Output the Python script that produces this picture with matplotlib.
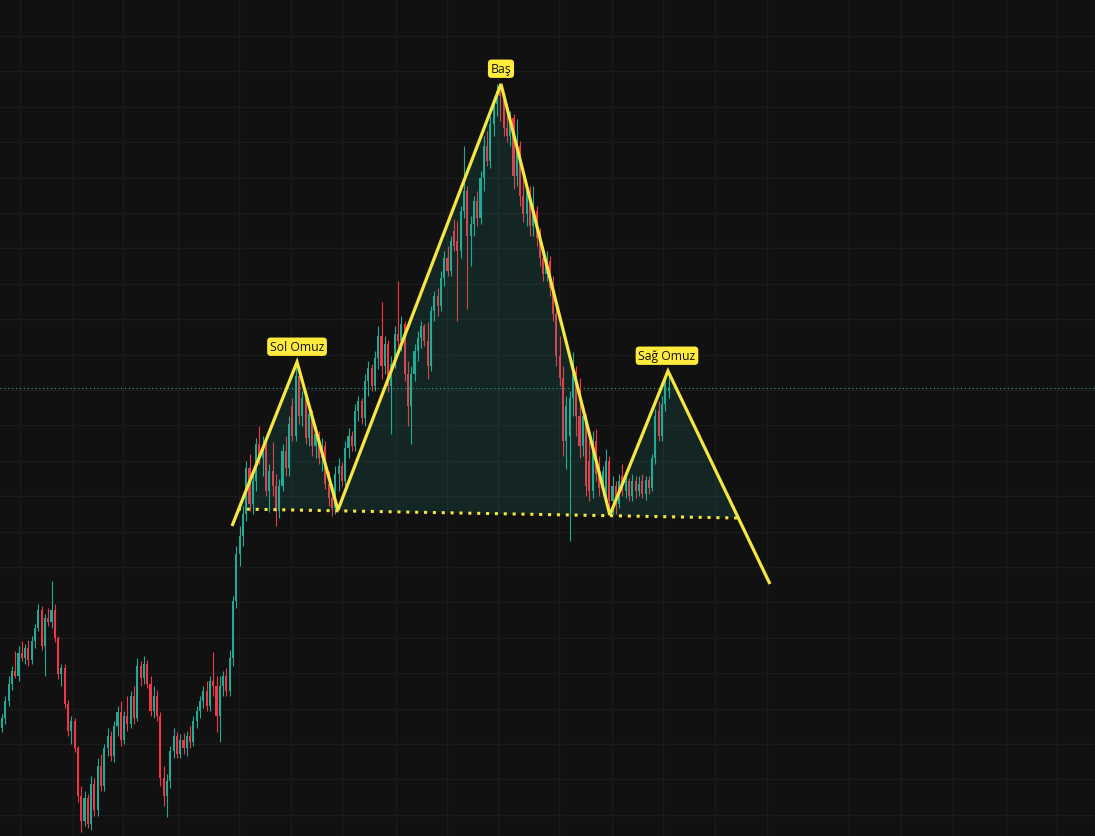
import matplotlib.pyplot as plt
import numpy as np

# candle data (price units), one entry per bar
opens = [1108, 1118, 1135, 1152, 1165, 1160, 1183, 1178, 1188, 1176,
         1195, 1208, 1226, 1190, 1218, 1214, 1226, 1198, 1162, 1168,
         1132, 1105, 1115, 1088, 1040, 1015, 1038, 1012, 1052, 1026,
         1070, 1050, 1088, 1100, 1080, 1110, 1124, 1096, 1120, 1112,
         1140, 1118, 1170, 1158, 1172, 1152, 1125, 1140, 1120, 1058,
         1040, 1055, 1085, 1100, 1082, 1096, 1088, 1100, 1094, 1115,
         1125, 1135, 1145, 1130, 1155, 1150, 1120, 1150, 1160, 1145,
         1178, 1235, 1282, 1300, 1322, 1368, 1332, 1355, 1392, 1378,
         1390, 1345, 1365, 1350, 1325, 1350, 1385, 1368, 1430, 1400,
         1460, 1420, 1438, 1398, 1422, 1390, 1402, 1378, 1390, 1352,
         1338, 1328, 1362, 1370, 1355, 1388, 1400, 1390, 1425, 1435,
         1418, 1455, 1468, 1450, 1478, 1500, 1470, 1492, 1450, 1472,
         1502, 1495, 1512, 1462, 1430, 1462, 1485, 1498, 1510, 1495,
         1470, 1525, 1540, 1530, 1558, 1578, 1565, 1605, 1595, 1585,
         1625, 1645, 1600, 1612, 1635, 1618, 1658, 1690, 1675, 1712,
         1732, 1745, 1740, 1708, 1700, 1718, 1660, 1690, 1640, 1622,
         1645, 1610, 1625, 1598, 1578, 1562, 1575, 1548, 1522, 1480,
         1458, 1395, 1400, 1438, 1465, 1420, 1390, 1420, 1375, 1345,
         1395, 1362, 1348, 1345, 1375, 1335, 1350, 1332, 1360, 1345,
         1355, 1340, 1355, 1345, 1355, 1342, 1356, 1348, 1378, 1425,
         1400, 1432, 1445]
highs = [1122, 1140, 1160, 1170, 1185, 1190, 1195, 1192, 1196, 1200,
         1212, 1232, 1230, 1222, 1228, 1255, 1232, 1200, 1172, 1172,
         1136, 1120, 1118, 1090, 1050, 1045, 1042, 1060, 1058, 1078,
         1082, 1092, 1108, 1105, 1115, 1130, 1135, 1125, 1140, 1145,
         1150, 1178, 1175, 1180, 1176, 1160, 1150, 1146, 1124, 1070,
         1062, 1090, 1108, 1104, 1102, 1103, 1105, 1110, 1120, 1130,
         1140, 1150, 1155, 1160, 1184, 1160, 1160, 1165, 1168, 1186,
         1240, 1290, 1310, 1330, 1375, 1382, 1362, 1398, 1410, 1400,
         1395, 1372, 1394, 1362, 1357, 1392, 1400, 1420, 1438, 1470,
         1468, 1445, 1440, 1430, 1426, 1410, 1405, 1398, 1395, 1365,
         1352, 1370, 1378, 1374, 1395, 1408, 1405, 1432, 1440, 1438,
         1462, 1475, 1472, 1485, 1510, 1534, 1500, 1496, 1480, 1510,
         1555, 1520, 1515, 1475, 1470, 1492, 1505, 1515, 1512, 1514,
         1530, 1545, 1548, 1565, 1585, 1590, 1600, 1617, 1615, 1630,
         1690, 1650, 1620, 1640, 1645, 1665, 1700, 1705, 1720, 1740,
         1752, 1750, 1742, 1728, 1725, 1722, 1717, 1695, 1660, 1650,
         1650, 1650, 1630, 1608, 1590, 1585, 1580, 1560, 1530, 1500,
         1470, 1440, 1445, 1484, 1470, 1458, 1430, 1422, 1395, 1405,
         1407, 1380, 1370, 1387, 1380, 1360, 1355, 1362, 1372, 1360,
         1358, 1362, 1360, 1360, 1362, 1360, 1360, 1382, 1427, 1435,
         1440, 1462, 1460]
lows = [1104, 1112, 1130, 1146, 1158, 1155, 1175, 1172, 1170, 1172,
        1188, 1205, 1186, 1160, 1210, 1208, 1194, 1157, 1150, 1128,
        1100, 1092, 1084, 1034, 1004, 1010, 1008, 1006, 1020, 1020,
        1045, 1045, 1080, 1075, 1074, 1100, 1090, 1092, 1105, 1108,
        1112, 1115, 1150, 1152, 1148, 1120, 1118, 1115, 1050, 1030,
        1019, 1048, 1078, 1078, 1078, 1082, 1080, 1088, 1090, 1108,
        1118, 1128, 1125, 1125, 1140, 1104, 1094, 1140, 1140, 1140,
        1170, 1228, 1270, 1290, 1315, 1325, 1322, 1345, 1372, 1360,
        1340, 1324, 1340, 1310, 1318, 1345, 1360, 1360, 1395, 1395,
        1412, 1410, 1392, 1390, 1380, 1378, 1372, 1365, 1347, 1330,
        1320, 1322, 1345, 1350, 1350, 1378, 1385, 1385, 1415, 1412,
        1410, 1440, 1445, 1445, 1467, 1457, 1462, 1444, 1402, 1468,
        1490, 1485, 1455, 1410, 1392, 1455, 1475, 1488, 1490, 1457,
        1465, 1515, 1520, 1525, 1550, 1560, 1560, 1585, 1515, 1578,
        1618, 1527, 1570, 1600, 1610, 1612, 1645, 1670, 1668, 1700,
        1720, 1715, 1700, 1694, 1690, 1647, 1650, 1630, 1614, 1610,
        1600, 1600, 1590, 1570, 1555, 1555, 1540, 1515, 1470, 1450,
        1380, 1367, 1295, 1420, 1400, 1378, 1380, 1340, 1335, 1338,
        1355, 1340, 1340, 1338, 1325, 1322, 1322, 1328, 1340, 1338,
        1335, 1335, 1338, 1340, 1338, 1336, 1342, 1345, 1372, 1395,
        1395, 1425, 1438]
closes = [1118, 1135, 1152, 1165, 1160, 1183, 1178, 1188, 1176, 1195,
          1208, 1226, 1190, 1218, 1214, 1226, 1198, 1162, 1168, 1132,
          1105, 1115, 1088, 1040, 1015, 1038, 1012, 1052, 1026, 1070,
          1050, 1088, 1100, 1080, 1110, 1124, 1096, 1120, 1112, 1140,
          1118, 1170, 1158, 1172, 1152, 1125, 1140, 1120, 1058, 1040,
          1055, 1085, 1100, 1082, 1096, 1088, 1100, 1094, 1115, 1125,
          1135, 1145, 1130, 1155, 1150, 1120, 1150, 1160, 1145, 1178,
          1235, 1282, 1300, 1322, 1368, 1332, 1355, 1392, 1378, 1390,
          1345, 1365, 1350, 1325, 1350, 1385, 1368, 1412, 1400, 1460,
          1420, 1438, 1398, 1422, 1390, 1402, 1378, 1390, 1352, 1338,
          1328, 1362, 1370, 1355, 1388, 1400, 1390, 1425, 1435, 1418,
          1455, 1468, 1450, 1478, 1500, 1470, 1492, 1450, 1472, 1502,
          1495, 1512, 1462, 1430, 1462, 1485, 1498, 1510, 1495, 1470,
          1525, 1540, 1530, 1558, 1578, 1565, 1595, 1590, 1585, 1625,
          1645, 1600, 1612, 1635, 1618, 1658, 1690, 1675, 1712, 1732,
          1745, 1740, 1708, 1700, 1718, 1660, 1690, 1640, 1622, 1645,
          1610, 1625, 1598, 1578, 1562, 1575, 1548, 1522, 1480, 1458,
          1395, 1430, 1438, 1465, 1420, 1390, 1420, 1350, 1345, 1395,
          1362, 1348, 1365, 1375, 1335, 1350, 1332, 1355, 1345, 1355,
          1340, 1355, 1345, 1352, 1342, 1356, 1348, 1378, 1420, 1400,
          1432, 1455, 1448]

# head & shoulders drawing (bar index, price)
pattern_idx = [69.7, 89.4, 101.8, 151.2, 184.2, 201.8, 232.7]
pattern_price = [1310, 1474, 1326, 1752, 1321, 1465, 1252]
neck_idx = [71.5, 222.7]
neck_price = [1327, 1318]
area_idx = [71.5, 89.4, 101.8, 151.2, 184.2, 201.8, 222.7]
area_price = [1327, 1474, 1326, 1752, 1321, 1465, 1318]
label_text = ["Sol Omuz", "Baş", "Sağ Omuz"]
label_idx = [89.4, 151.2, 201.5]
label_price = [1474, 1752, 1465]
last_price = 1448

bg = "#111111"
up_col = "#22ab94"
dn_col = "#f23645"
yellow = "#f5e642"

fig = plt.figure(figsize=(10.95, 8.37), dpi=100, facecolor=bg)
ax = fig.add_axes([0, 0, 1, 1])
ax.set_facecolor(bg)

x = np.arange(len(closes))
o = np.array(opens)
c = np.array(closes)
cols = np.where(c >= o, up_col, dn_col)

ax.vlines(x, lows, highs, colors=cols, linewidth=0.8, zorder=2)
body_lo = np.minimum(o, c)
body_h = np.maximum(np.abs(c - o), 1.5)
ax.bar(x, body_h, bottom=body_lo, width=0.62, color=cols, linewidth=0, zorder=2)

# current price line
ax.axhline(last_price, color=up_col, linewidth=0.8, linestyle=(0, (1, 2.5)), zorder=1)

# pattern area + lines
ax.fill(area_idx, area_price, color=up_col, alpha=0.14, linewidth=0, zorder=3)
ax.plot(pattern_idx, pattern_price, color=yellow, linewidth=2.3,
        solid_joinstyle="miter", solid_capstyle="butt", zorder=4)
ax.plot(neck_idx, neck_price, color=yellow, linewidth=2.2,
        linestyle=(0, (1, 1.9)), dash_capstyle="butt", zorder=4)

for t, xi, yi in zip(label_text, label_idx, label_price):
    ax.annotate(t, (xi, yi), xytext=(0, 11), textcoords="offset points",
                ha="center", va="center", fontsize=8.8,
                family=["Open Sans", "DejaVu Sans"], color="#131313",
                bbox=dict(boxstyle="round,pad=0.22,rounding_size=0.3",
                          fc="#ffeb3b", ec="none"), zorder=5)

# grid
grid_x = [5.5, 21.5, 36.7, 53.3, 71.8, 87.6, 103, 119.4, 134.8, 150.3, 168.8,
          184.8, 200.3, 216, 231.8, 256.7, 272.4, 288.2, 304.2, 319.7]
ax.set_xticks(grid_x)
ax.set_yticks(np.arange(1800, 1000, -35.4))
ax.grid(True, color="#1b1b1b", linewidth=0.9, zorder=0)
ax.set_axisbelow(True)
ax.tick_params(length=0, labelbottom=False, labelleft=False)
for s in ax.spines.values():
    s.set_visible(False)

ax.set_xlim(-0.606, 331.2)
ax.set_ylim(1000, 1837)

fig.savefig("out.png", dpi=100, facecolor=bg)
